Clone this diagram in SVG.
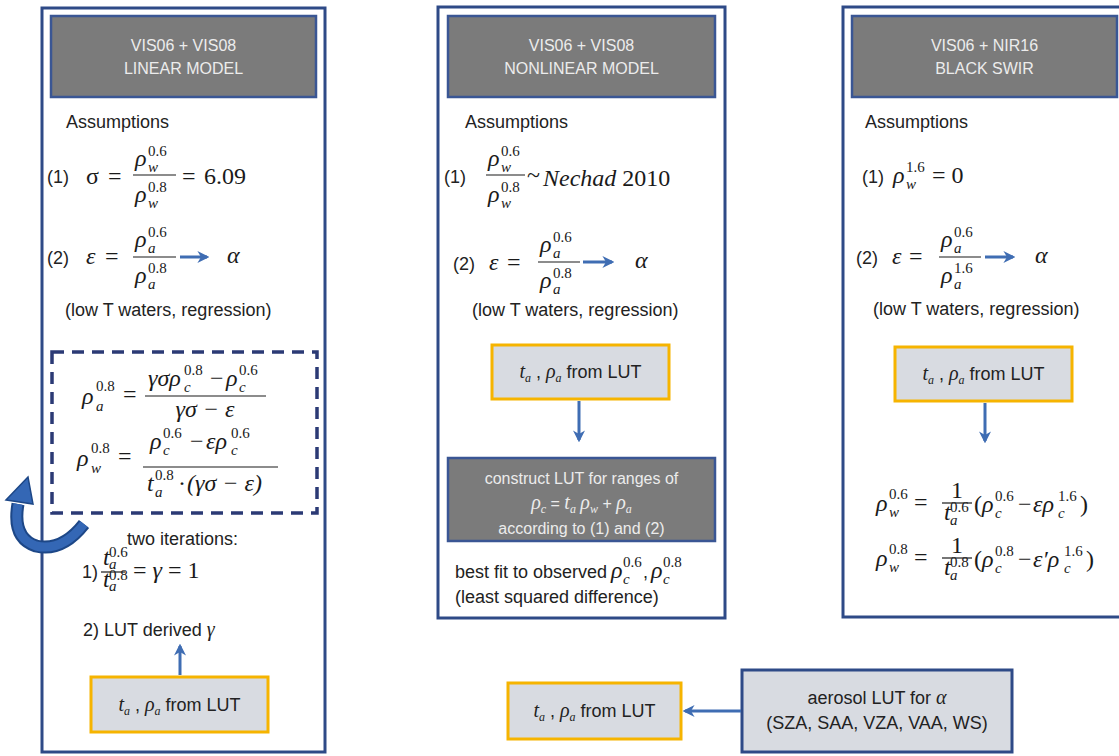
<svg xmlns="http://www.w3.org/2000/svg" width="1119" height="756" viewBox="0 0 1119 756">
  <defs>
    <style>
      .panel { fill: #ffffff; stroke: #2e4a87; stroke-width: 3; }
      .hdr { fill: #7b7b7b; stroke: #3a5694; stroke-width: 2.5; }
      .ht { font-family: "Liberation Sans", Arial, sans-serif; font-size: 16px; fill: #ececec; text-anchor: middle; }
      .t { font-family: "Liberation Sans", Arial, sans-serif; font-size: 18px; fill: #222222; }
      .m { font-family: "Liberation Serif", "Times New Roman", serif; font-style: italic; font-size: 24px; fill: #1a1a1a; }
      .n { font-family: "Liberation Serif", "Times New Roman", serif; font-size: 24px; fill: #1a1a1a; }
      .sp { font-family: "Liberation Serif", "Times New Roman", serif; font-size: 15px; fill: #1a1a1a; }
      .sb { font-family: "Liberation Serif", "Times New Roman", serif; font-style: italic; font-size: 15px; fill: #1a1a1a; }
      .mi { font-family: "Liberation Serif", "Times New Roman", serif; font-style: italic; font-size: 20px; }
      .ms { font-family: "Liberation Serif", "Times New Roman", serif; font-style: italic; font-size: 12px; }
      .lut { fill: #d8dbe1; stroke: #f6b400; stroke-width: 3; }
      .src { fill: #d8dbe1; stroke: #2e4a87; stroke-width: 3; }
      .fl { stroke: #1a1a1a; stroke-width: 1.2; }
      .conn { stroke: #3f6db3; stroke-width: 3; fill: none; marker-end: url(#ah); }
      .dash { fill: none; stroke: #2b3a75; stroke-width: 3.5; stroke-dasharray: 12 8; }
    </style>
    <marker id="ah" viewBox="0 0 10 10" refX="8" refY="5" markerWidth="4" markerHeight="4" orient="auto">
      <path d="M0,0 L10,5 L0,10 L3,5 Z" fill="#3f6db3"/>
    </marker>
  </defs>

  <rect width="1119" height="756" fill="#ffffff"/>

  <!-- ============ Linear model column ============ -->
  <g id="linear-model">
    <rect class="panel" x="42" y="8" width="283" height="744"/>
    <rect class="hdr" x="51" y="16" width="265" height="81"/>
    <text class="ht" x="183.5" y="51">VIS06 + VIS08</text>
    <text class="ht" x="183.5" y="74">LINEAR MODEL</text>
    <text class="t" x="66" y="128">Assumptions</text>

    <!-- (1) sigma -->
    <text class="t" x="47" y="183">(1)</text>
    <text class="n" x="86" y="184">σ</text>
    <text class="n" x="108" y="184">=</text>
    <text class="m" x="135" y="166">ρ</text><text class="sp" x="148" y="156">0.6</text><text class="sb" x="148" y="172">w</text>
    <line class="fl" x1="133" y1="175" x2="176" y2="175"/>
    <text class="m" x="135" y="202">ρ</text><text class="sp" x="148" y="192">0.8</text><text class="sb" x="148" y="208">w</text>
    <text class="n" x="182" y="184">=</text>
    <text class="n" x="204" y="184">6.09</text>

    <!-- (2) epsilon -->
    <text class="t" x="47" y="264">(2)</text>
    <text class="m" x="86" y="264">ε</text>
    <text class="n" x="105" y="264">=</text>
    <text class="m" x="135" y="247">ρ</text><text class="sp" x="148" y="237">0.6</text><text class="sb" x="148" y="253">a</text>
    <line class="fl" x1="133" y1="257" x2="176" y2="257"/>
    <text class="m" x="135" y="283">ρ</text><text class="sp" x="148" y="273">0.8</text><text class="sb" x="148" y="289">a</text>
    <text class="m" x="227" y="263">α</text>
    <text class="t" x="65" y="316">(low T waters, regression)</text>

    <!-- retrieval equations -->
    <rect class="dash" x="52" y="352" width="265" height="161"/>
    <text class="m" x="82" y="404">ρ</text><text class="sp" x="96" y="391">0.8</text><text class="sb" x="96" y="411">a</text>
    <text class="n" x="123" y="402">=</text>
    <text class="m" x="148" y="386">γσρ</text><text class="sp" x="184" y="375">0.8</text><text class="sb" x="184" y="392">c</text>
    <text class="n" x="210" y="386">−</text>
    <text class="m" x="226" y="386">ρ</text><text class="sp" x="239" y="375">0.6</text><text class="sb" x="239" y="392">c</text>
    <line class="fl" x1="145" y1="396" x2="266" y2="396"/>
    <text class="m" x="205" y="417" text-anchor="middle">γσ − ε</text>

    <text class="m" x="77" y="466">ρ</text><text class="sp" x="91" y="453">0.8</text><text class="sb" x="91" y="473">w</text>
    <text class="n" x="118" y="464">=</text>
    <text class="m" x="150" y="449">ρ</text><text class="sp" x="163" y="438">0.6</text><text class="sb" x="163" y="455">c</text>
    <text class="n" x="190" y="449">−</text>
    <text class="m" x="206" y="449">ερ</text><text class="sp" x="231" y="438">0.6</text><text class="sb" x="231" y="455">c</text>
    <line class="fl" x1="143" y1="467" x2="278" y2="467"/>
    <text class="m" x="147" y="491">t</text><text class="sp" x="155" y="480">0.8</text><text class="sb" x="155" y="497">a</text>
    <text class="n" x="178" y="491">·</text>
    <text class="m" x="187" y="491">(γσ − ε)</text>

    <!-- iteration note -->
    <text class="t" x="127" y="545">two iterations:</text>
    <text class="t" x="82" y="578">1)</text>
    <text class="m" x="103" y="565" font-size="14">t</text><text class="sp" x="109" y="557" font-size="9">0.6</text><text class="sb" x="109" y="569" font-size="9">a</text>
    <line class="fl" x1="101" y1="572" x2="125" y2="572" stroke-width="1"/>
    <text class="m" x="103" y="587" font-size="14">t</text><text class="sp" x="109" y="580" font-size="9">0.8</text><text class="sb" x="109" y="591" font-size="9">a</text>
    <text class="n" x="133" y="578" font-size="20">= <tspan font-style="italic">γ</tspan> = 1</text>
    <text class="t" x="83" y="636">2) LUT derived <tspan class="mi">γ</tspan></text>
  </g>

  <g id="lut-linear">
    <rect class="lut" x="91" y="677" width="177" height="55"/>
    <text class="t" x="179.5" y="711" text-anchor="middle"><tspan class="mi">t</tspan><tspan class="ms" dy="4">a</tspan><tspan dy="-4"> , </tspan><tspan class="mi">ρ</tspan><tspan class="ms" dy="4">a</tspan><tspan dy="-4"> from LUT</tspan></text>
  </g>

  <!-- ============ Nonlinear model column ============ -->
  <g id="nonlinear-model">
    <rect class="panel" x="438" y="7" width="287" height="611"/>
    <rect class="hdr" x="448" y="16" width="267" height="81"/>
    <text class="ht" x="581.5" y="51">VIS06 + VIS08</text>
    <text class="ht" x="581.5" y="74">NONLINEAR MODEL</text>
    <text class="t" x="465" y="128">Assumptions</text>

    <text class="t" x="444" y="183">(1)</text>
    <text class="m" x="488" y="166">ρ</text><text class="sp" x="501" y="156">0.6</text><text class="sb" x="501" y="172">w</text>
    <line class="fl" x1="486" y1="175" x2="525" y2="175"/>
    <text class="m" x="488" y="202">ρ</text><text class="sp" x="501" y="192">0.8</text><text class="sb" x="501" y="208">w</text>
    <text class="n" x="527" y="183" font-size="20">~</text>
    <text class="n" x="543" y="186" font-size="27"><tspan font-style="italic">Nechad</tspan> 2010</text>

    <text class="t" x="453" y="270">(2)</text>
    <text class="m" x="489" y="270">ε</text>
    <text class="n" x="507" y="270">=</text>
    <text class="m" x="540" y="252">ρ</text><text class="sp" x="553" y="242">0.6</text><text class="sb" x="553" y="258">a</text>
    <line class="fl" x1="538" y1="262" x2="580" y2="262"/>
    <text class="m" x="540" y="288">ρ</text><text class="sp" x="553" y="278">0.8</text><text class="sb" x="553" y="294">a</text>
    <text class="m" x="635" y="268">α</text>
    <text class="t" x="472" y="316">(low T waters, regression)</text>
  </g>

  <g id="lut-nonlinear">
    <rect class="lut" x="492" y="345" width="177" height="54"/>
    <text class="t" x="580.5" y="378" text-anchor="middle"><tspan class="mi">t</tspan><tspan class="ms" dy="4">a</tspan><tspan dy="-4"> , </tspan><tspan class="mi">ρ</tspan><tspan class="ms" dy="4">a</tspan><tspan dy="-4"> from LUT</tspan></text>
  </g>

  <g id="construct-lut">
    <rect class="hdr" x="448" y="458" width="267" height="83"/>
    <text class="ht" x="581.5" y="484" font-size="18">construct LUT for ranges of</text>
    <text class="ht" x="581.5" y="509" font-size="18"><tspan class="mi">ρ</tspan><tspan class="ms" dy="4">c</tspan><tspan dy="-4"> = </tspan><tspan class="mi">t</tspan><tspan class="ms" dy="4">a</tspan><tspan dy="-4"> </tspan><tspan class="mi">ρ</tspan><tspan class="ms" dy="4">w</tspan><tspan dy="-4"> + </tspan><tspan class="mi">ρ</tspan><tspan class="ms" dy="4">a</tspan></text>
    <text class="ht" x="581.5" y="534" font-size="18">according to (1) and (2)</text>
  </g>

  <g id="best-fit">
    <text class="t" x="455" y="578">best fit to observed</text>
    <text class="m" x="611" y="578" font-size="22">ρ</text><text class="sp" x="623" y="567" font-size="14">0.6</text><text class="sb" x="623" y="584" font-size="13">c</text>
    <text class="t" x="643" y="578">,</text>
    <text class="m" x="651" y="578" font-size="22">ρ</text><text class="sp" x="663" y="567" font-size="14">0.8</text><text class="sb" x="663" y="584" font-size="13">c</text>
    <text class="t" x="455" y="603">(least squared difference)</text>
  </g>

  <!-- ============ Black SWIR column ============ -->
  <g id="black-swir">
    <rect class="panel" x="843" y="7" width="290" height="610"/>
    <rect class="hdr" x="852" y="16" width="265" height="81"/>
    <text class="ht" x="984.5" y="51">VIS06 + NIR16</text>
    <text class="ht" x="984.5" y="74">BLACK SWIR</text>
    <text class="t" x="865" y="128">Assumptions</text>

    <text class="t" x="862" y="183">(1)</text>
    <text class="m" x="893" y="183">ρ</text><text class="sp" x="906" y="172">1.6</text><text class="sb" x="906" y="189">w</text>
    <text class="n" x="932" y="183">= 0</text>

    <text class="t" x="856" y="264">(2)</text>
    <text class="m" x="892" y="264">ε</text>
    <text class="n" x="909" y="264">=</text>
    <text class="m" x="941" y="247">ρ</text><text class="sp" x="954" y="237">0.6</text><text class="sb" x="954" y="253">a</text>
    <line class="fl" x1="939" y1="257" x2="981" y2="257"/>
    <text class="m" x="941" y="283">ρ</text><text class="sp" x="954" y="273">1.6</text><text class="sb" x="954" y="289">a</text>
    <text class="m" x="1035" y="263">α</text>
    <text class="t" x="873" y="315">(low T waters, regression)</text>

    <!-- corrected water reflectances -->
    <text class="m" x="876" y="511">ρ</text><text class="sp" x="889" y="499">0.6</text><text class="sb" x="889" y="517">w</text>
    <text class="n" x="914" y="510">=</text>
    <text class="n" x="957" y="498" font-size="15" text-anchor="middle">1</text>
    <line class="fl" x1="942" y1="503" x2="972" y2="503" stroke-width="1"/>
    <text class="m" x="944" y="520" font-size="15">t</text><text class="sp" x="950" y="512" font-size="10">0.6</text><text class="sb" x="950" y="525" font-size="10">a</text>
    <text class="n" x="974" y="512">(</text>
    <text class="m" x="982" y="512">ρ</text><text class="sp" x="995" y="501">0.6</text><text class="sb" x="995" y="518">c</text>
    <text class="n" x="1018" y="512">−</text>
    <text class="m" x="1033" y="512">ερ</text><text class="sp" x="1058" y="501">1.6</text><text class="sb" x="1058" y="518">c</text>
    <text class="n" x="1080" y="512">)</text>

    <text class="m" x="876" y="566">ρ</text><text class="sp" x="889" y="554">0.8</text><text class="sb" x="889" y="572">w</text>
    <text class="n" x="914" y="565">=</text>
    <text class="n" x="957" y="553" font-size="15" text-anchor="middle">1</text>
    <line class="fl" x1="942" y1="558" x2="972" y2="558" stroke-width="1"/>
    <text class="m" x="944" y="575" font-size="15">t</text><text class="sp" x="950" y="567" font-size="10">0.8</text><text class="sb" x="950" y="580" font-size="10">a</text>
    <text class="n" x="974" y="567">(</text>
    <text class="m" x="982" y="567">ρ</text><text class="sp" x="995" y="556">0.8</text><text class="sb" x="995" y="573">c</text>
    <text class="n" x="1018" y="567">−</text>
    <text class="m" x="1033" y="567">ε′ρ</text><text class="sp" x="1064" y="556">1.6</text><text class="sb" x="1064" y="573">c</text>
    <text class="n" x="1086" y="567">)</text>
  </g>

  <g id="lut-swir">
    <rect class="lut" x="895" y="347" width="177" height="54"/>
    <text class="t" x="983.5" y="380" text-anchor="middle"><tspan class="mi">t</tspan><tspan class="ms" dy="4">a</tspan><tspan dy="-4"> , </tspan><tspan class="mi">ρ</tspan><tspan class="ms" dy="4">a</tspan><tspan dy="-4"> from LUT</tspan></text>
  </g>

  <!-- ============ Aerosol LUT inputs ============ -->
  <g id="lut-shared">
    <rect class="lut" x="508" y="683" width="173" height="56"/>
    <text class="t" x="594.5" y="717" text-anchor="middle"><tspan class="mi">t</tspan><tspan class="ms" dy="4">a</tspan><tspan dy="-4"> , </tspan><tspan class="mi">ρ</tspan><tspan class="ms" dy="4">a</tspan><tspan dy="-4"> from LUT</tspan></text>
  </g>

  <g id="aerosol-lut">
    <rect class="src" x="742" y="670" width="270" height="82"/>
    <text class="t" x="877" y="704" text-anchor="middle">aerosol LUT for <tspan class="mi">α</tspan></text>
    <text class="t" x="877" y="729" text-anchor="middle">(SZA, SAA, VZA, VAA, WS)</text>
  </g>

  <!-- ============ Connectors ============ -->
  <g id="connectors">
    <line class="conn" x1="180" y1="257" x2="207" y2="257"/>
    <line class="conn" x1="583" y1="262" x2="612" y2="262"/>
    <line class="conn" x1="985" y1="257" x2="1013" y2="257"/>
    <line class="conn" x1="180" y1="675" x2="180" y2="646"/>
    <line class="conn" x1="579" y1="401" x2="579" y2="440"/>
    <line class="conn" x1="985" y1="403" x2="985" y2="441"/>
    <line class="conn" x1="741" y1="711" x2="685" y2="711"/>
    <!-- iteration loop arrow -->
    <path d="M84,524 Q62,552 36,546 Q12,538 18,504" fill="none" stroke="#1d4787" stroke-width="13"/>
    <path d="M84,524 Q62,552 36,546 Q12,538 18,504" fill="none" stroke="#3467b5" stroke-width="9"/>
    <polygon points="28,477 6,500 33,504" fill="#3467b5" stroke="#1d4787" stroke-width="1.5"/>
  </g>
</svg>
